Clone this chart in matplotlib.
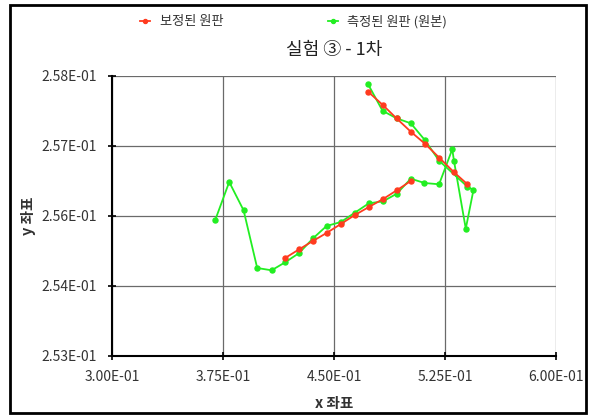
import numpy as np
import matplotlib
matplotlib.use("Agg")
import matplotlib.pyplot as plt
from matplotlib.patches import Rectangle

plt.rcParams['font.family'] = ['Noto Sans CJK KR', 'DejaVu Sans']

# 측정된 원판 (원본) - 측정 순서대로
meas_x = [0.36959, 0.37905, 0.38878, 0.39797, 0.40770, 0.41689, 0.42635, 0.43561,
          0.44486, 0.45453, 0.46399, 0.47345, 0.48311, 0.49236, 0.50182, 0.51108,
          0.52095, 0.52986, 0.53108, 0.53899, 0.54419, 0.54014, 0.52095, 0.51128,
          0.50182, 0.49216, 0.48270, 0.47297]
meas_y = [0.255423, 0.256102, 0.255596, 0.254566, 0.254525, 0.254668, 0.254834, 0.255093,
          0.255316, 0.255387, 0.255554, 0.255721, 0.255757, 0.255893, 0.256161, 0.256084,
          0.256061, 0.256686, 0.256471, 0.255268, 0.255959, 0.256018, 0.256482, 0.256852,
          0.257150, 0.257239, 0.257375, 0.257846]

# 보정된 원판 - 아래쪽 구간, 위쪽 구간 (NaN 으로 분리)
corr_x = [0.41689, 0.42635, 0.43561, 0.44486, 0.45453, 0.46399, 0.47345, 0.48311,
          0.49236, 0.50182, np.nan,
          0.47297, 0.48270, 0.49216, 0.50182, 0.51162, 0.52095, 0.53108, 0.54014]
corr_y = [0.254745, 0.254900, 0.255048, 0.255191, 0.255352, 0.255512, 0.255655, 0.255798,
          0.255954, 0.256120, np.nan,
          0.257714, 0.257482, 0.257239, 0.257000, 0.256780, 0.256539, 0.256275, 0.256061]

x_ticks = [0.300, 0.375, 0.450, 0.525, 0.600]
x_labels = ['3.00E-01', '3.75E-01', '4.50E-01', '5.25E-01', '6.00E-01']
y_ticks = [0.253, 0.25425, 0.2555, 0.25675, 0.258]
y_labels = ['2.53E-01', '2.54E-01', '2.56E-01', '2.57E-01', '2.58E-01']

fig = plt.figure(figsize=(5.93, 4.16), dpi=100)
ax = fig.add_axes([112.3 / 593, 1 - 355.7 / 416, (556 - 112.3) / 593, (355.7 - 75.7) / 416])

ax.plot(corr_x, corr_y, '-o', color='#ff3b1f', lw=1.3, ms=3.6, label='보정된 원판', zorder=3)
ax.plot(meas_x, meas_y, '-o', color='#22ee22', lw=1.3, ms=3.6, label='측정된 원판 (원본)', zorder=2)

ax.set_xlim(0.3, 0.6)
ax.set_ylim(0.253, 0.258)
ax.set_xticks(x_ticks)
ax.set_xticklabels(x_labels)
ax.set_yticks(y_ticks)
ax.set_yticklabels(y_labels)
ax.tick_params(direction='inout', length=6, width=1.2, labelsize=10, colors='black',
               labelcolor='#333333')
ax.tick_params(axis='x', pad=7)
ax.tick_params(axis='y', pad=8)
ax.grid(True, color='#6a6a6a', lw=0.9)
ax.set_axisbelow(True)
for s in ['top', 'right']:
    ax.spines[s].set_visible(False)
for s in ['left', 'bottom']:
    ax.spines[s].set_linewidth(1.5)

ax.set_xlabel('x 좌표', fontsize=10.5, fontweight='bold', color='#333333', labelpad=8)
ax.set_ylabel('y 좌표', fontsize=10.5, fontweight='bold', color='#333333', labelpad=4)
ax.set_title('실험 ③ - 1차', fontsize=13, color='#222222', pad=15)

fig.legend(loc='upper left', bbox_to_anchor=(128 / 593, 1 - 3 / 416), ncol=2, frameon=False,
           fontsize=9.5, handlelength=0.8, handletextpad=0.7, columnspacing=7.9,
           markerscale=0.8, labelcolor='#333333')

# 차트 바깥 테두리
fig.patches.append(Rectangle((10 / 593, 1 - 413 / 416), 576 / 593, 408 / 416,
                             transform=fig.transFigure, fill=False, lw=2, ec='black'))

fig.savefig('out.png', dpi=100)
